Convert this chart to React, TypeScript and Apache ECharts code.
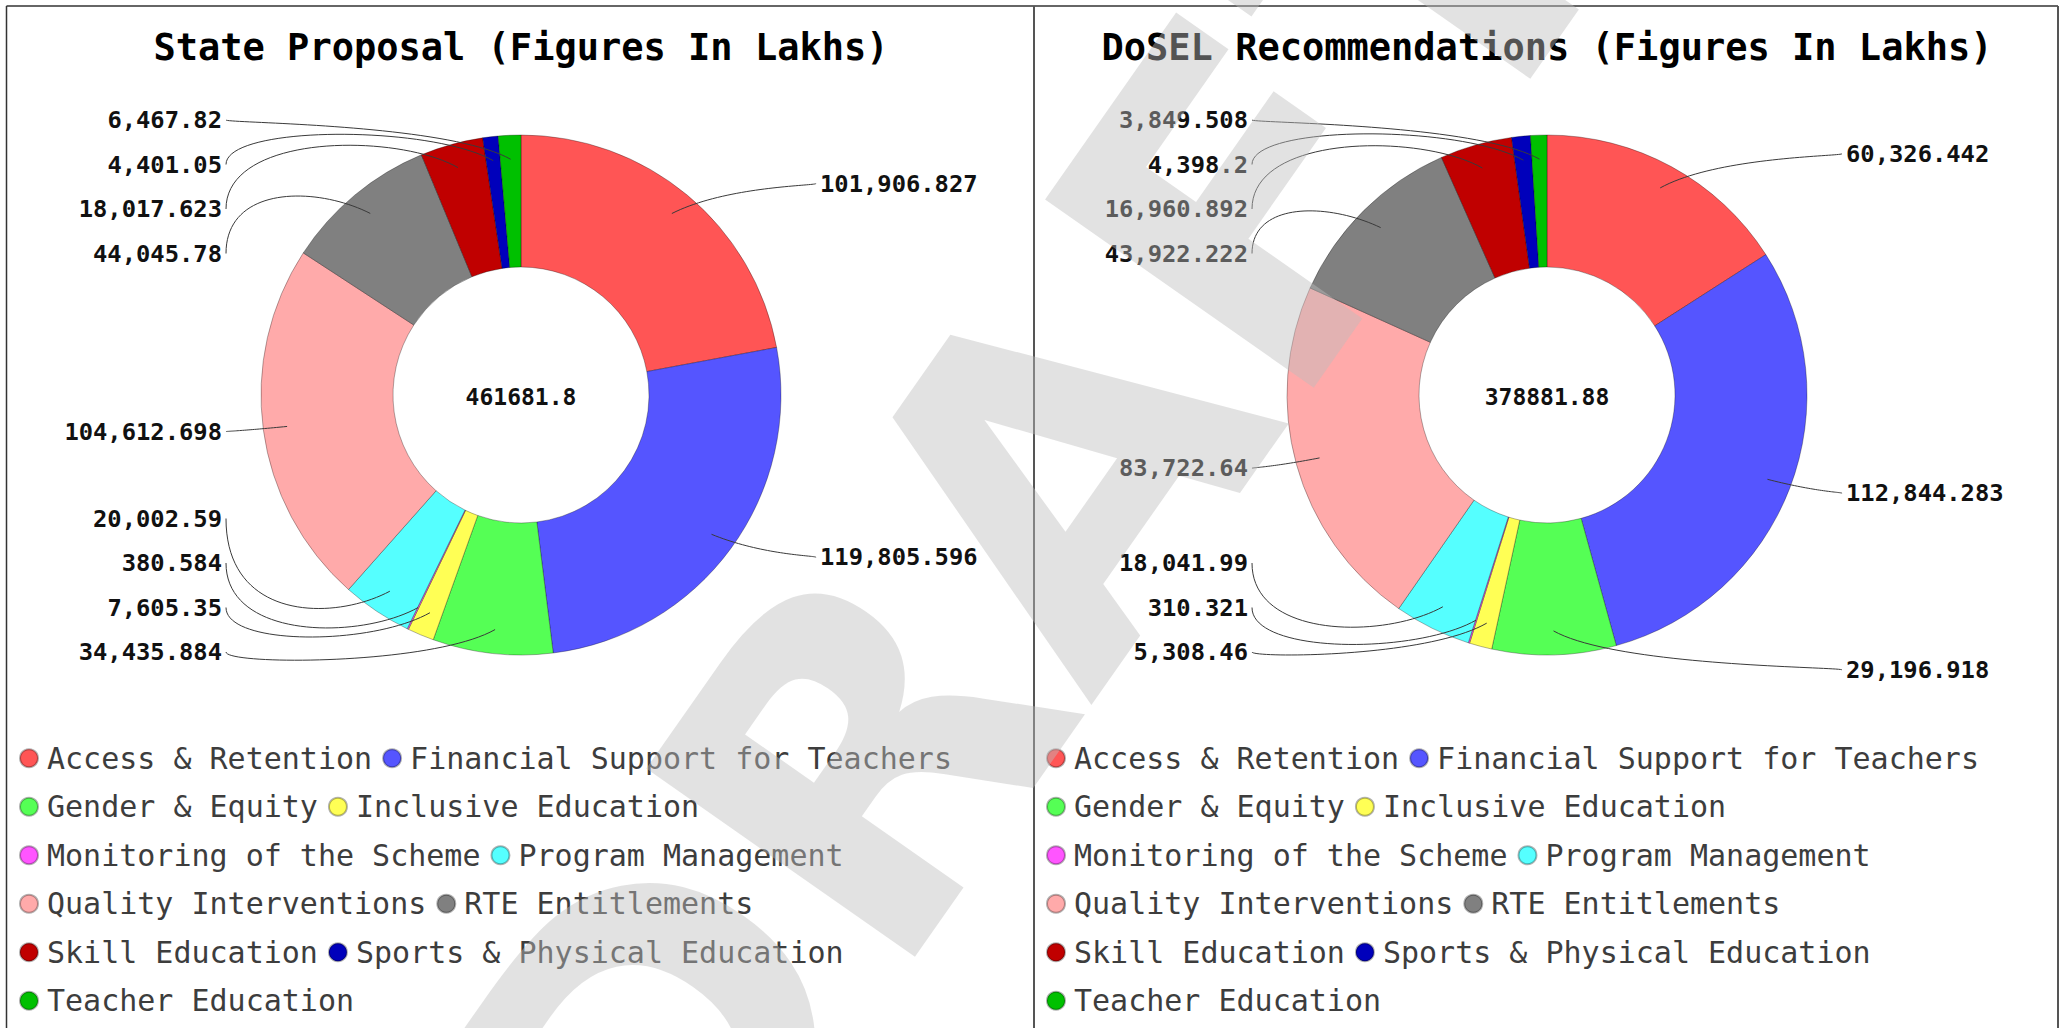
import React, { useEffect, useRef } from 'react';
import * as echarts from 'echarts';

// ---------- data ----------
const categories = [
  'Access & Retention',
  'Financial Support for Teachers',
  'Gender & Equity',
  'Inclusive Education',
  'Monitoring of the Scheme',
  'Program Management',
  'Quality Interventions',
  'RTE Entitlements',
  'Skill Education',
  'Sports & Physical Education',
  'Teacher Education',
];
const stateProposal = [101906.827, 119805.596, 34435.884, 7605.35, 380.584, 20002.59, 104612.698, 44045.78, 18017.623, 4401.05, 6467.82];
const doselRecommendations = [60326.442, 112844.283, 29196.918, 5308.46, 310.321, 18041.99, 83722.64, 43922.222, 16960.892, 4398.2, 3849.508];
const sliceColors = ['#ff5555', '#5555ff', '#55ff55', '#ffff55', '#ff55ff', '#55ffff', '#ffaaaa', '#808080', '#c00000', '#0000bb', '#00c000'];
const chartTitles = ['State Proposal (Figures In Lakhs)', 'DoSEL Recommendations (Figures In Lakhs)'];
const watermarkText = 'DRAFT';

// ---------- layout constants ----------
const W = 2065;
const H = 1028;
const CENTERS = [[521, 395], [1547, 395]];
const LEGEND_LEFT = [19, 1046];
const R_INNER = 128;
const R_OUTER = 260;
const R_LINE_START = 236;
const R_NATURAL = 275;
const LABEL_OFFSET_X = 299;
const LABEL_GAP = 44.5;
const LABEL_MIN_Y = 120;
const LABEL_MAX_Y_LEFT = 652;
const LABEL_MAX_Y_RIGHT = 672;
const MONO = 'DejaVu Sans Mono';

const fmt = (v: number) => v.toLocaleString('en-US', { maximumFractionDigits: 3 });

function computeLabelLayout(values: number[], cx: number, cy: number) {
  const total = values.reduce((a, b) => a + b, 0);
  let acc = 0;
  const items = values.map((v, i) => {
    const a0 = (acc / total) * Math.PI * 2;
    acc += v;
    const a1 = (acc / total) * Math.PI * 2;
    const mid = (a0 + a1) / 2;
    const sx = Math.sin(mid);
    const sy = -Math.cos(mid);
    return { i, sx, sy, side: sx < 0 ? -1 : 1, natY: cy + sy * R_NATURAL, y: 0 };
  });
  [-1, 1].forEach((side) => {
    const maxY = side < 0 ? LABEL_MAX_Y_LEFT : LABEL_MAX_Y_RIGHT;
    const list = items.filter((it) => it.side === side).sort((a, b) => a.natY - b.natY);
    const clusters = list.map((it) => ({ items: [it], sum: it.natY, start: 0 }));
    const place = (c: any) => {
      const n = c.items.length;
      let s = c.sum / n - ((n - 1) * LABEL_GAP) / 2;
      s = Math.min(s, maxY - (n - 1) * LABEL_GAP);
      s = Math.max(s, LABEL_MIN_Y);
      c.start = s;
    };
    clusters.forEach(place);
    let merged = true;
    while (merged) {
      merged = false;
      for (let k = 1; k < clusters.length; k++) {
        const prev = clusters[k - 1];
        const cur = clusters[k];
        if (cur.start < prev.start + prev.items.length * LABEL_GAP - 0.01) {
          prev.items = prev.items.concat(cur.items);
          prev.sum += cur.sum;
          place(prev);
          clusters.splice(k, 1);
          merged = true;
          break;
        }
      }
    }
    clusters.forEach((c) => c.items.forEach((it, j) => { it.y = c.start + j * LABEL_GAP; }));
  });
  return items.map((it) => {
    const p1 = [cx + it.sx * R_LINE_START, cy + it.sy * R_LINE_START];
    const textX = cx + it.side * LABEL_OFFSET_X;
    const p3 = [textX - it.side * 4, it.y];
    const c1 = [p1[0] + it.sx * 36 + it.side * 0.22 * Math.abs(p3[0] - p1[0]), p1[1] + it.sy * 36];
    const c2 = [p3[0], c1[1]];
    const pts: number[][] = [];
    const N = 40;
    for (let s = 0; s <= N; s++) {
      const t = s / N;
      const u = 1 - t;
      pts.push([
        u * u * u * p1[0] + 3 * u * u * t * c1[0] + 3 * u * t * t * c2[0] + t * t * t * p3[0],
        u * u * u * p1[1] + 3 * u * u * t * c1[1] + 3 * u * t * t * c2[1] + t * t * t * p3[1],
      ]);
    }
    return {
      x: textX,
      y: it.y,
      align: it.side < 0 ? 'right' : 'left',
      verticalAlign: 'middle',
      labelLinePoints: pts,
    };
  });
}

function buildOption() {
  const datasets = [stateProposal, doselRecommendations];
  const series: any[] = [];
  const graphic: any[] = [];

  datasets.forEach((values, k) => {
    const [cx, cy] = CENTERS[k];
    const data = values.map((v, i) => ({ name: categories[i], value: v, itemStyle: { color: sliceColors[i] } }));
    const layouts = computeLabelLayout(values, cx, cy);
    series.push({
      type: 'pie',
      z: 2,
      center: [cx, cy],
      radius: [R_INNER, R_OUTER],
      startAngle: 90,
      clockwise: true,
      silent: true,
      avoidLabelOverlap: false,
      emphasis: { disabled: true },
      label: { show: false },
      labelLine: { show: false },
      itemStyle: { borderColor: 'rgba(0,0,0,0.3)', borderWidth: 1 },
      data,
    });
    series.push({
      type: 'pie',
      z: 3,
      center: [cx, cy],
      radius: [0, R_LINE_START],
      startAngle: 90,
      clockwise: true,
      silent: true,
      avoidLabelOverlap: false,
      emphasis: { disabled: true },
      itemStyle: { color: 'rgba(0,0,0,0)', borderWidth: 0 },
      label: {
        show: true,
        position: 'outside',
        formatter: (p: any) => fmt(p.value),
        fontFamily: MONO,
        fontWeight: 'bold',
        fontSize: 23.8,
        color: '#111',
      },
      labelLine: { show: true, smooth: false, length: 20, length2: 20, lineStyle: { color: '#3a3a3a', width: 1 } },
      labelLayout: (p: any) => layouts[p.dataIndex],
      data: values.map((v, i) => ({ name: categories[i], value: v })),
    });

    const total = Number(values.reduce((a, b) => a + b, 0).toFixed(2));
    graphic.push({
      type: 'text',
      x: cx,
      y: 47,
      z: 5,
      style: { text: chartTitles[k], fontFamily: MONO, fontWeight: 'bold', fontSize: 37, fill: '#000', align: 'center', verticalAlign: 'middle' },
    });
    graphic.push({
      type: 'text',
      x: cx,
      y: cy + 2,
      z: 5,
      style: { text: String(total), fontFamily: MONO, fontWeight: 'bold', fontSize: 23, fill: '#111', align: 'center', verticalAlign: 'middle' },
    });
  });

  // frame
  const frameLines = [
    { x1: 6.5, y1: 6, x2: 2058, y2: 6, w: 2, c: '#666' },
    { x1: 6.5, y1: 6, x2: 6.5, y2: H, w: 1.5, c: '#333' },
    { x1: 1034, y1: 6, x2: 1034, y2: H, w: 2, c: '#555' },
    { x1: 2058, y1: 6, x2: 2058, y2: H, w: 2, c: '#555' },
  ];
  frameLines.forEach((l) => {
    graphic.push({ type: 'line', z: 10, silent: true, shape: { x1: l.x1, y1: l.y1, x2: l.x2, y2: l.y2 }, style: { stroke: l.c, lineWidth: l.w } });
  });

  // watermark
  graphic.push({
    type: 'text',
    x: 1032,
    y: 518,
    z: 100,
    silent: true,
    rotation: (55 * Math.PI) / 180,
    style: {
      text: watermarkText,
      fontFamily: 'DejaVu Sans',
      fontWeight: 'bold',
      fontSize: 450,
      fill: 'rgba(189,189,189,0.44)',
      align: 'center',
      verticalAlign: 'middle',
    },
  });

  const legend = [0, 1].map((k) => ({
    data: categories.map((c, i) => ({ name: c, itemStyle: { color: sliceColors[i] } })),
    left: LEGEND_LEFT[k],
    top: 739,
    width: 1000,
    orient: 'horizontal',
    padding: 0,
    itemWidth: 26,
    itemHeight: 18,
    itemGap: 10,
    icon: 'circle',
    selectedMode: false,
    textStyle: { fontFamily: MONO, fontSize: 30, color: '#3d3d3d', lineHeight: 38.5 },
  }));

  return {
    animation: false,
    backgroundColor: '#ffffff',
    textStyle: { fontFamily: MONO },
    legend,
    series,
    graphic,
  };
}

export default function App() {
  const ref = useRef<HTMLDivElement>(null);
  useEffect(() => {
    if (!ref.current) return;
    const chart = echarts.init(ref.current, null, { renderer: 'svg' });
    chart.setOption(buildOption() as any);
    return () => chart.dispose();
  }, []);
  return (
    <div
      ref={ref}
      style={{ position: 'fixed', left: 0, top: 0, width: W, height: H, background: '#fff' }}
    />
  );
}
